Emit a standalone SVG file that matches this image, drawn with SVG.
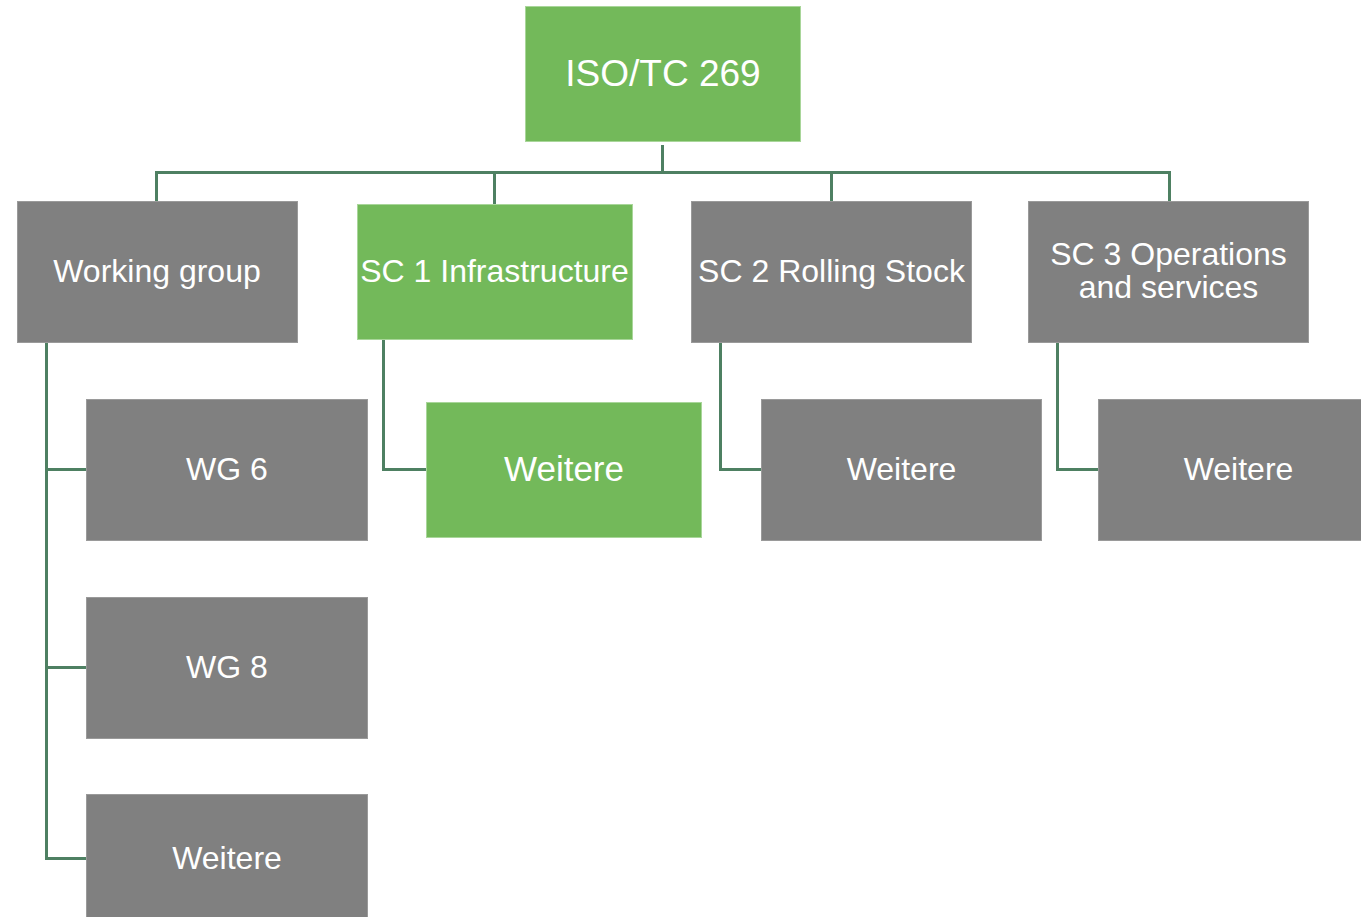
<svg xmlns="http://www.w3.org/2000/svg" width="1361" height="917" viewBox="0 0 1361 917">
<style>
.g{fill:#808080;stroke:#9a9a9a;stroke-width:1}
.gr{fill:#73B95A;stroke:#a9d69a;stroke-width:1}
.t{font-family:"Liberation Sans",Arial,sans-serif;font-size:32px;fill:#ffffff;text-anchor:middle}
.c{fill:none;stroke:#4E8062;stroke-width:3}
</style>
<rect width="1361" height="917" fill="#ffffff"/>
<g id="connectors">
<path class="c" d="M662.5 145V172.5M156.5 201V172.5H1169.5V201M494.5 172.5V204M831.5 172.5V201"/>
<path class="c" d="M46.5 343V858.5H86M46.5 469.5H86M46.5 667.5H86"/>
<path class="c" d="M383.5 340V469.5H426"/>
<path class="c" d="M720.5 343V469.5H761"/>
<path class="c" d="M1057.5 343V469.5H1098"/>
</g>
<g id="n-iso"><rect class="gr" x="525.5" y="6.5" width="275" height="135"/><text class="t" x="663" y="86" style="font-size:37px">ISO/TC 269</text></g>
<g id="n-wg"><rect class="g" x="17.5" y="201.5" width="280" height="141"/><text class="t" x="157" y="282">Working group</text></g>
<g id="n-sc1"><rect class="gr" x="357.5" y="204.5" width="275" height="135"/><text class="t" x="494.5" y="282">SC 1 Infrastructure</text></g>
<g id="n-sc2"><rect class="g" x="691.5" y="201.5" width="280" height="141"/><text class="t" x="831.5" y="282">SC 2 Rolling Stock</text></g>
<g id="n-sc3"><rect class="g" x="1028.5" y="201.5" width="280" height="141"/><text class="t" x="1168.5" y="265">SC 3 Operations</text><text class="t" x="1168.5" y="298">and services</text></g>
<g id="n-wg6"><rect class="g" x="86.5" y="399.5" width="281" height="141"/><text class="t" x="227" y="480">WG 6</text></g>
<g id="n-wg8"><rect class="g" x="86.5" y="597.5" width="281" height="141"/><text class="t" x="227" y="678">WG 8</text></g>
<g id="n-wg-weitere"><rect class="g" x="86.5" y="794.5" width="281" height="141"/><text class="t" x="227" y="869">Weitere</text></g>
<g id="n-sc1-weitere"><rect class="gr" x="426.5" y="402.5" width="275" height="135"/><text class="t" x="564" y="481" style="font-size:35px">Weitere</text></g>
<g id="n-sc2-weitere"><rect class="g" x="761.5" y="399.5" width="280" height="141"/><text class="t" x="901.5" y="480">Weitere</text></g>
<g id="n-sc3-weitere"><rect class="g" x="1098.5" y="399.5" width="280" height="141"/><text class="t" x="1238.5" y="480">Weitere</text></g>
</svg>
